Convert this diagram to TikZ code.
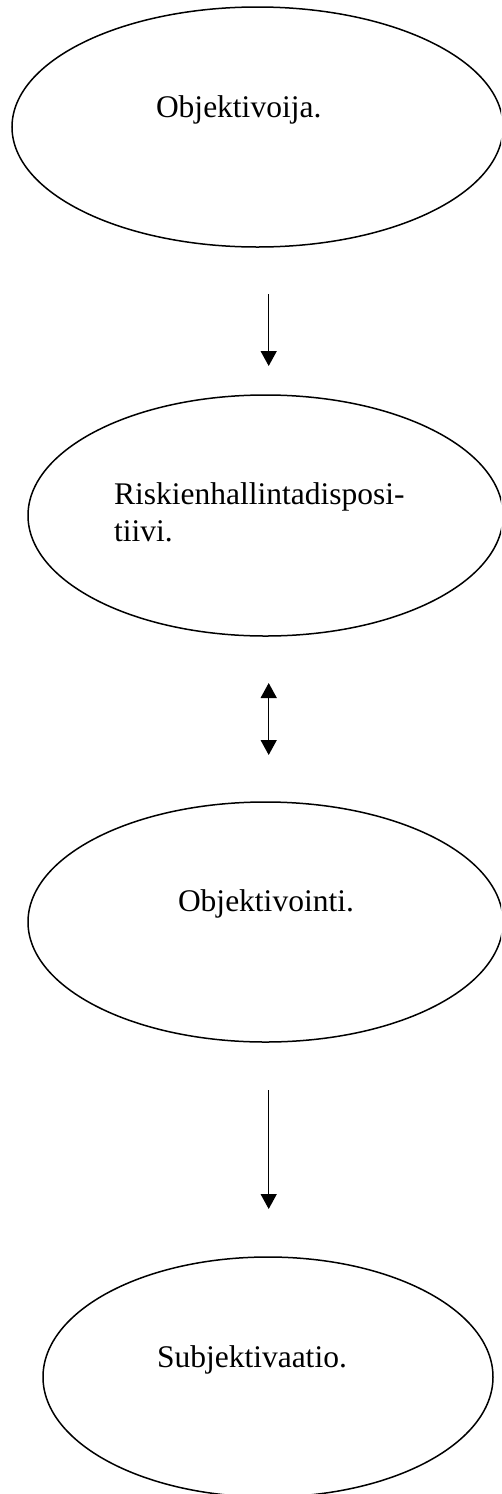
\documentclass[tikz,border=0pt]{standalone}
\usepackage{fontspec}
\setmainfont{Liberation Serif}
\usetikzlibrary{shapes.geometric,arrows.meta}

\tikzset{
  oval/.style={draw=black, line width=1.5pt, shape=ellipse, inner sep=0pt},
  label text/.style={anchor=base west, inner sep=0pt, outer sep=0pt,
    font=\fontsize{31.5}{37}\selectfont, align=left},
  flow/.style={line width=1.5pt, -{Triangle[length=15pt,width=16pt]}},
  twoway/.style={line width=1.5pt, {Triangle[length=15pt,width=16pt]}-{Triangle[length=15pt,width=16pt]}}
}

\begin{document}
\begin{tikzpicture}[x=1pt, y=-1pt]
  \useasboundingbox (0,0) rectangle (501,1494);
  \clip (0,0) rectangle (501,1494);

  % the four stages
  \node[oval, minimum width=491pt, minimum height=240pt] (e1) at (257.5,127) {};
  \node[oval, minimum width=475pt, minimum height=241pt] (e2) at (265.5,515.5) {};
  \node[oval, minimum width=475pt, minimum height=240pt] (e3) at (265.5,922) {};
  \node[oval, minimum width=450pt, minimum height=240pt] (e4) at (268,1377) {};

  % their labels (a two-line label sits on the baseline of its last line)
  \node[label text] (t1) at (156,117) {Objektivoija.};
  \node[label text] (t2) at (114,541) {Riskienhallintadisposi-\\tiivi.};
  \node[label text] (t3) at (178,911) {Objektivointi.};
  \node[label text] (t4) at (157,1367) {Subjektivaatio.};

  % arrow end points between the stages
  \coordinate (a1s) at (268.7,294);
  \coordinate (a1e) at (268.7,366);
  \coordinate (a2s) at (268.7,683);
  \coordinate (a2e) at (268.7,755);
  \coordinate (a3s) at (268.7,1090);
  \coordinate (a3e) at (268.7,1209);

  \draw[flow] (a1s) -- (a1e);
  \draw[twoway] (a2s) -- (a2e);
  \draw[flow] (a3s) -- (a3e);
\end{tikzpicture}
\end{document}
